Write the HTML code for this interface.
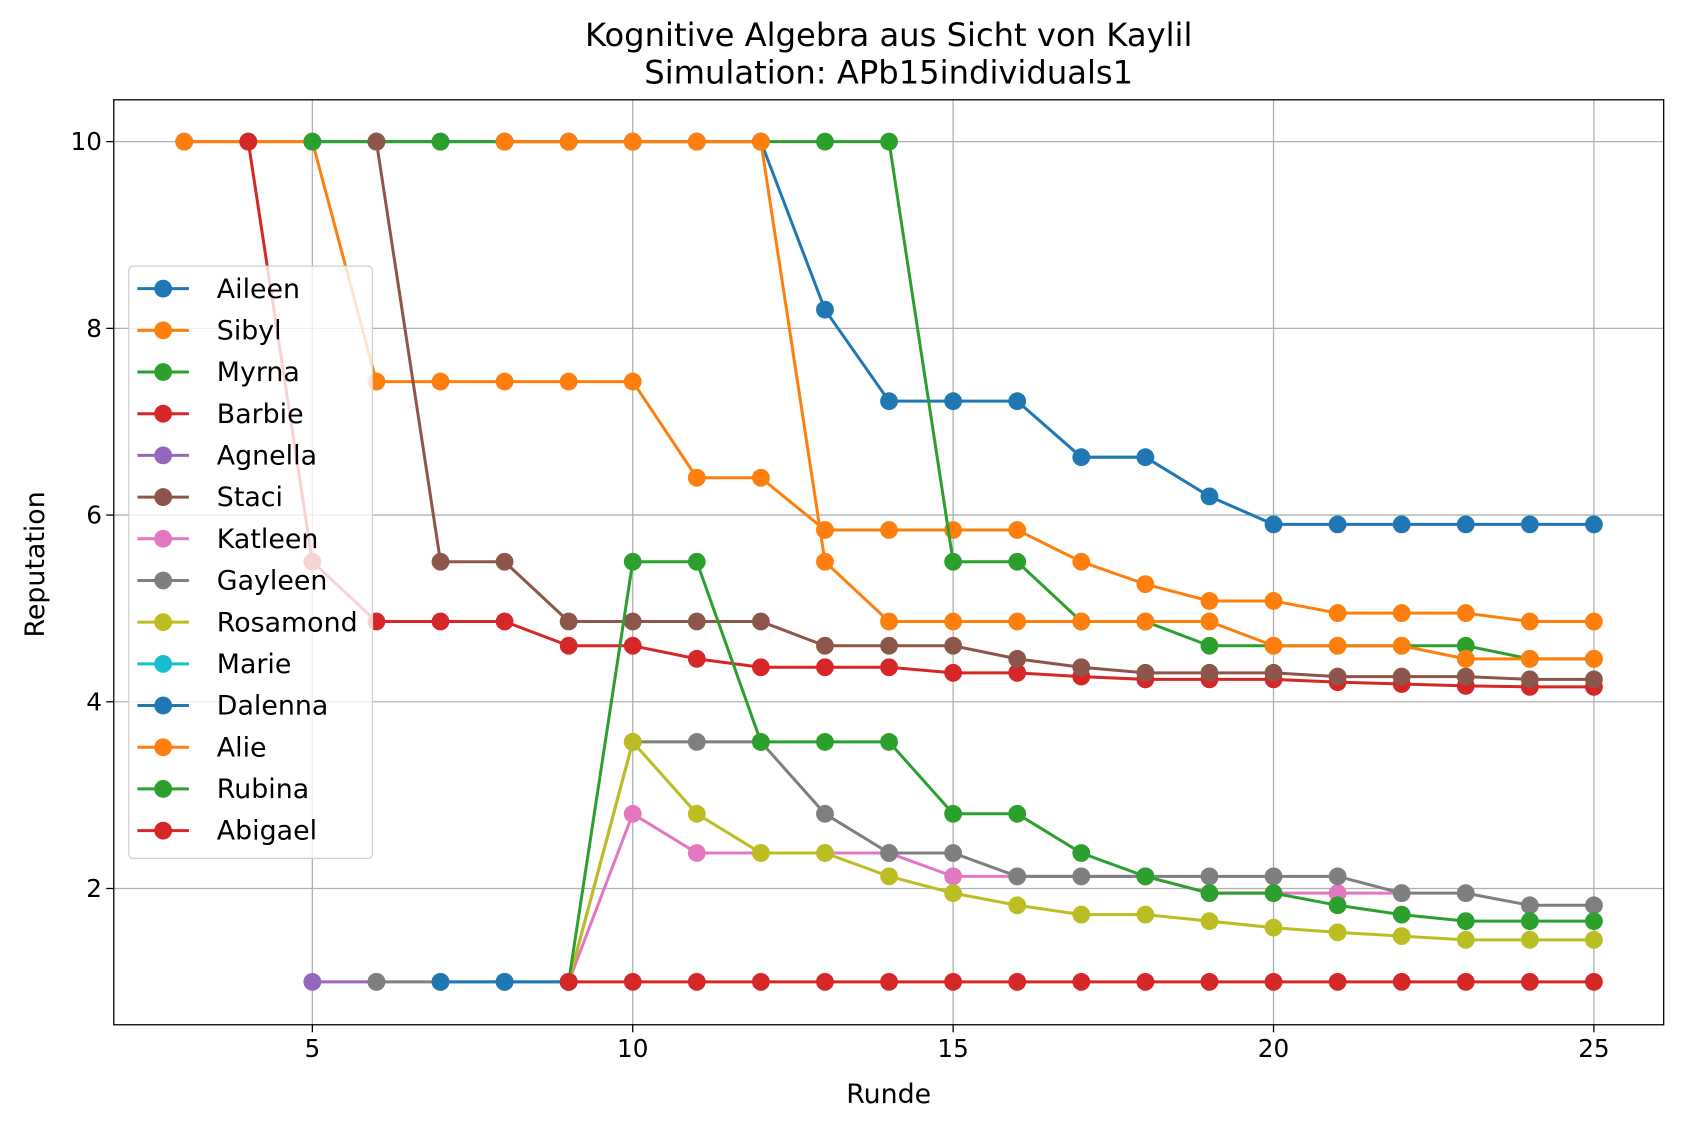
<!DOCTYPE html>
<html><head><meta charset="utf-8"><style>
body{margin:0;background:#fff;font-family:"Liberation Sans","DejaVu Sans",sans-serif}
svg text{font-family:"DejaVu Sans","Liberation Sans",sans-serif;fill:#000}
</style></head><body>
<svg id="chart" width="1683" height="1131" viewBox="0 0 1568 1054" preserveAspectRatio="none" xmlns="http://www.w3.org/2000/svg"></svg>
<script>
const xTicks=[5,10,15,20,25];
const yTicks=[2,4,6,8,10];
const names=["Aileen","Sibyl","Myrna","Barbie","Agnella","Staci","Katleen","Gayleen","Rosamond","Marie","Dalenna","Alie","Rubina","Abigael"];
const colors=["#1f77b4","#ff7f0e","#2ca02c","#d62728","#9467bd","#8c564b","#e377c2","#7f7f7f","#bcbd22","#17becf","#1f77b4","#ff7f0e","#2ca02c","#d62728"];
const aileenX=[3,4,5,6,7,8,9,10,11,12,13,14,15,16,17,18,19,20,21,22,23,24,25];
const aileenY=[10,10,10,10,10,10,10,10,10,10,8.2,7.22,7.22,7.22,6.62,6.62,6.2,5.9,5.9,5.9,5.9,5.9,5.9];
const sibylX=[3,4,5,6,7,8,9,10,11,12,13,14,15,16,17,18,19,20,21,22,23,24,25];
const sibylY=[10,10,10,7.43,7.43,7.43,7.43,7.43,6.4,6.4,5.84,5.84,5.84,5.84,5.5,5.26,5.08,5.08,4.95,4.95,4.95,4.86,4.86];
const myrnaX=[5,6,7,8,9,10,11,12,13,14,15,16,17,18,19,20,21,22,23,24,25];
const myrnaY=[10,10,10,10,10,10,10,10,10,10,5.5,5.5,4.86,4.86,4.6,4.6,4.6,4.6,4.6,4.46,4.46];
const barbieX=[4,5,6,7,8,9,10,11,12,13,14,15,16,17,18,19,20,21,22,23,24,25];
const barbieY=[10,5.5,4.86,4.86,4.86,4.6,4.6,4.46,4.37,4.37,4.37,4.31,4.31,4.27,4.24,4.24,4.24,4.21,4.19,4.17,4.16,4.16];
const agnellaX=[5,6];
const agnellaY=[1,1];
const staciX=[6,7,8,9,10,11,12,13,14,15,16,17,18,19,20,21,22,23,24,25];
const staciY=[10,5.5,5.5,4.86,4.86,4.86,4.86,4.6,4.6,4.6,4.46,4.37,4.31,4.31,4.31,4.27,4.27,4.27,4.24,4.24];
const katleenX=[9,10,11,12,13,14,15,16,17,18,19,20,21,22];
const katleenY=[1,2.8,2.38,2.38,2.38,2.38,2.13,2.13,2.13,2.13,1.95,1.95,1.95,1.95];
const gayleenX=[6,7,8,9,10,11,12,13,14,15,16,17,18,19,20,21,22,23,24,25];
const gayleenY=[1,1,1,1,3.57,3.57,3.57,2.8,2.38,2.38,2.13,2.13,2.13,2.13,2.13,2.13,1.95,1.95,1.82,1.82];
const rosamondX=[9,10,11,12,13,14,15,16,17,18,19,20,21,22,23,24,25];
const rosamondY=[1,3.57,2.8,2.38,2.38,2.13,1.95,1.82,1.72,1.72,1.65,1.58,1.53,1.49,1.45,1.45,1.45];
const marieX=[];
const marieY=[];
const dalennaX=[7,8,9];
const dalennaY=[1,1,1];
const alieX=[8,9,10,11,12,13,14,15,16,17,18,19,20,21,22,23,24,25];
const alieY=[10,10,10,10,10,5.5,4.86,4.86,4.86,4.86,4.86,4.86,4.6,4.6,4.6,4.46,4.46,4.46];
const rubinaX=[9,10,11,12,13,14,15,16,17,18,19,20,21,22,23,24,25];
const rubinaY=[1,5.5,5.5,3.57,3.57,3.57,2.8,2.8,2.38,2.13,1.95,1.95,1.82,1.72,1.65,1.65,1.65];
const abigaelX=[9,10,11,12,13,14,15,16,17,18,19,20,21,22,23,24,25];
const abigaelY=[1,1,1,1,1,1,1,1,1,1,1,1,1,1,1,1,1];
const seriesX=[aileenX,sibylX,myrnaX,barbieX,agnellaX,staciX,katleenX,gayleenX,rosamondX,marieX,dalennaX,alieX,rubinaX,abigaelX];
const seriesY=[aileenY,sibylY,myrnaY,barbieY,agnellaY,staciY,katleenY,gayleenY,rosamondY,marieY,dalennaY,alieY,rubinaY,abigaelY];

const NS="http://www.w3.org/2000/svg";
const svg=document.getElementById('chart');
const L=106,R=1550,T=93,B=955;
function sx(v){return 291+(v-5)*(1485-291)/20;}
function sy(v){return 132+(10-v)*(828-132)/8;}
function mk(tag,attrs,parent){const e=document.createElementNS(NS,tag);for(const k in attrs)e.setAttribute(k,attrs[k]);(parent||svg).appendChild(e);return e;}

const grid=mk('g',{});


xTicks.forEach(t=>{
  const l=mk('line',{x1:sx(t),x2:sx(t),y1:T,y2:B,stroke:'#b0b0b0','stroke-width':1.2},grid);
  
  
  mk('line',{x1:sx(t),x2:sx(t),y1:B,y2:B+7,stroke:'#000','stroke-width':1.2});
  const tx=mk('text',{x:sx(t),y:B+30,'text-anchor':'middle','font-size':23});
  tx.textContent=t;
  
  
});
yTicks.forEach(t=>{
  const l=mk('line',{x1:L,x2:R,y1:sy(t),y2:sy(t),stroke:'#b0b0b0','stroke-width':1.2},grid);
  
  
  mk('line',{x1:L-7,x2:L,y1:sy(t),y2:sy(t),stroke:'#000','stroke-width':1.2});
  const tx=mk('text',{x:L-11,y:sy(t)+8,'text-anchor':'end','font-size':23});
  tx.textContent=t;
  
  
});

seriesX.forEach((xs,i)=>{
  const g=mk('g',{});
  
  
  if(xs.length){
    const pts=xs.map((x,j)=>sx(x)+','+sy(seriesY[i][j])).join(' ');
    const pl=mk('polyline',{points:pts,fill:'none',stroke:colors[i],'stroke-width':2.8},g);
    
    
    xs.forEach((x,j)=>{
      const c=mk('circle',{cx:sx(x),cy:sy(seriesY[i][j]),r:8.3,fill:colors[i]},g);
      
      
    });
  }
});

const frame=mk('rect',{x:L,y:T,width:R-L,height:B-T,fill:'none',stroke:'#000','stroke-width':1.2});



const lg=mk('g',{});


mk('rect',{x:120,y:248,width:227,height:552,rx:4,fill:'#fff','fill-opacity':0.8,stroke:'#d0d0d0','stroke-width':1.2},lg);
names.forEach((n,i)=>{
  const y=269+i*38.85;
  const e=mk('g',{},lg);
  
  
  mk('line',{x1:128,x2:176,y1:y,y2:y,stroke:colors[i],'stroke-width':2.8},e);
  mk('circle',{cx:152,cy:y,r:8.3,fill:colors[i]},e);
  const t=mk('text',{x:202,y:y+8.5,'font-size':25},e);
  t.textContent=n;
});

const t1=mk('text',{x:828,y:43,'text-anchor':'middle','font-size':30});
t1.textContent='Kognitive Algebra aus Sicht von Kaylil';


const t2=mk('text',{x:828,y:78,'text-anchor':'middle','font-size':30});
t2.textContent='Simulation: APb15individuals1';


const xl=mk('text',{x:828,y:1028,'text-anchor':'middle','font-size':25});
xl.textContent='Runde';


const yl=mk('text',{x:41,y:526,'text-anchor':'middle','font-size':25,transform:'rotate(-90 41 526)'});
yl.textContent='Reputation';


</script>
</body></html>
